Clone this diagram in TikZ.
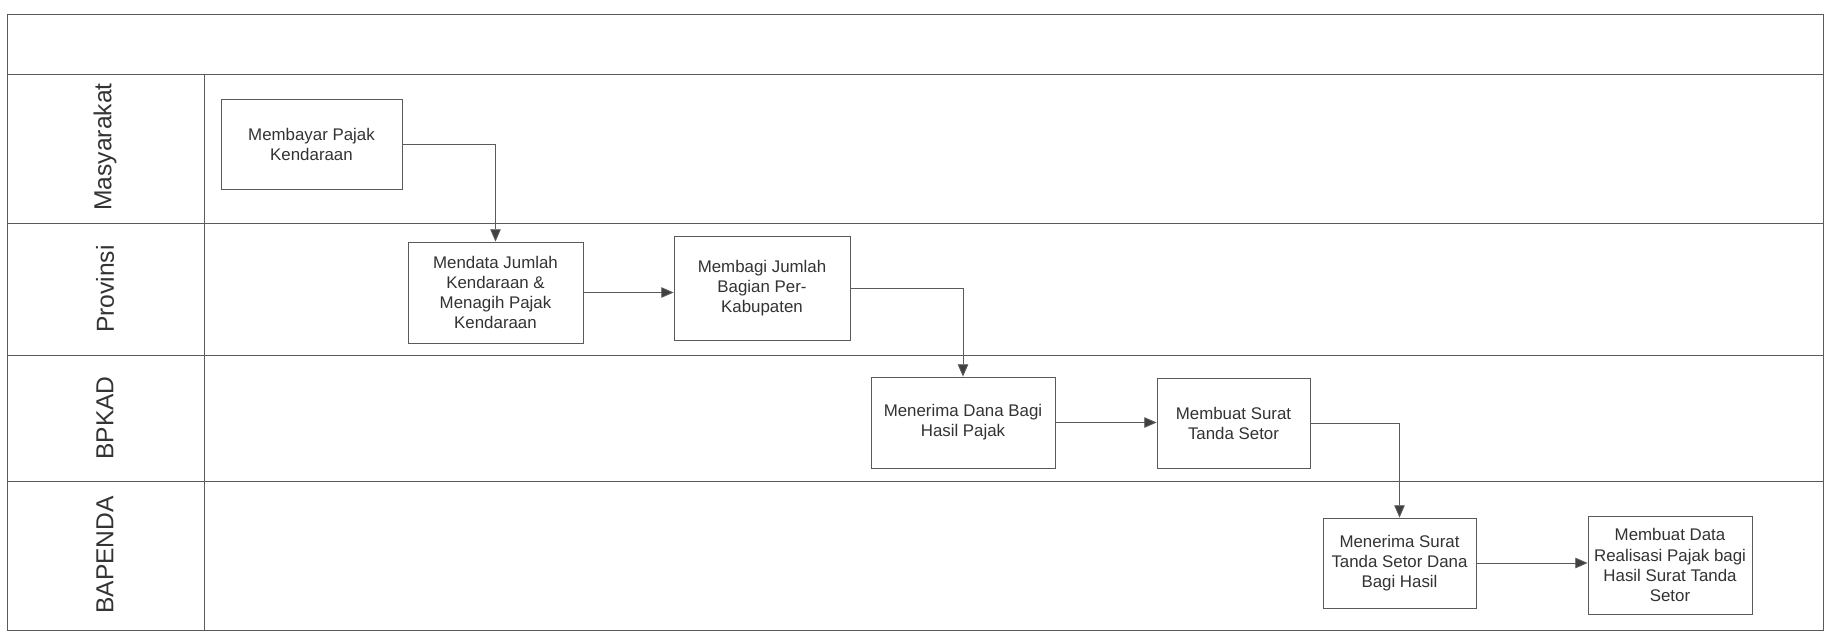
\documentclass[tikz,border=0pt]{standalone}
\usepackage{fontspec}
\setmainfont{Liberation Sans}
\usetikzlibrary{arrows.meta}
\definecolor{ln}{HTML}{5A5A5A}
\definecolor{ar}{HTML}{404040}
\definecolor{tx}{HTML}{333333}
\tikzset{
  frame/.style={draw=ln, line width=0.5pt},
  proc/.style={draw=ln, line width=0.5pt, fill=white, align=center, text=tx,
    font=\fontsize{9.6}{11.4}\selectfont, inner sep=2pt},
  lanelabel/.style={rotate=90, text=tx, font=\fontsize{14}{16}\selectfont},
  flow/.style={draw=ln, line width=0.5pt, -{Triangle[length=7pt,width=6pt,fill=ar]}}
}
\begin{document}
\begin{tikzpicture}[x=0.02cm,y=-0.02cm]
\useasboundingbox (0,0) rectangle (1825,639);
% frame and lanes
\draw[frame] (7,14) rectangle (1823,630);
\draw[frame] (7,74) -- (1823,74);
\draw[frame] (7,223) -- (1823,223);
\draw[frame] (7,355) -- (1823,355);
\draw[frame] (7,481) -- (1823,481);
\draw[frame] (204,74) -- (204,630);
% lane labels
\node[lanelabel] (lm) at (105,147) {Masyarakat};
\node[lanelabel] (lp) at (105,289) {Provinsi};
\node[lanelabel] (lb) at (105,418) {BPKAD};
\node[lanelabel] (ld) at (105,555) {BAPENDA};
% process boxes
\node[proc, minimum width=3.62cm, minimum height=1.80cm] (b1) at (311.5,144) {Membayar Pajak\\Kendaraan};
\node[proc, minimum width=3.50cm, minimum height=2.02cm] (b2) at (495.5,292.5) {Mendata Jumlah\\Kendaraan \&\\Menagih Pajak\\Kendaraan};
\node[proc, minimum width=3.52cm, minimum height=2.08cm] (b3) at (762,288) {Membagi Jumlah\\Bagian Per-\\Kabupaten};
\node[proc, minimum width=3.68cm, minimum height=1.82cm] (b4) at (963,422.5) {Menerima Dana Bagi\\Hasil Pajak};
\node[proc, minimum width=3.06cm, minimum height=1.80cm] (b5) at (1233.5,423) {Membuat Surat\\Tanda Setor};
\node[proc, minimum width=3.06cm, minimum height=1.80cm] (b6) at (1399.5,563) {Menerima Surat\\Tanda Setor Dana\\Bagi Hasil};
\node[proc, minimum width=3.28cm, minimum height=1.96cm] (b7) at (1670,565) {Membuat Data\\Realisasi Pajak bagi\\Hasil Surat Tanda\\Setor};
% connectors
\draw[flow] (b1.east) -| (b2.north);
\draw[flow] (b2.east) -- (b2.east -| b3.west);
\draw[flow] (b3.east) -| (b4.north);
\draw[flow] (b4.east) -- (b4.east -| b5.west);
\draw[flow] (b5.east) -| (b6.north);
\draw[flow] (b6.east) -- (b6.east -| b7.west);
\end{tikzpicture}
\end{document}
